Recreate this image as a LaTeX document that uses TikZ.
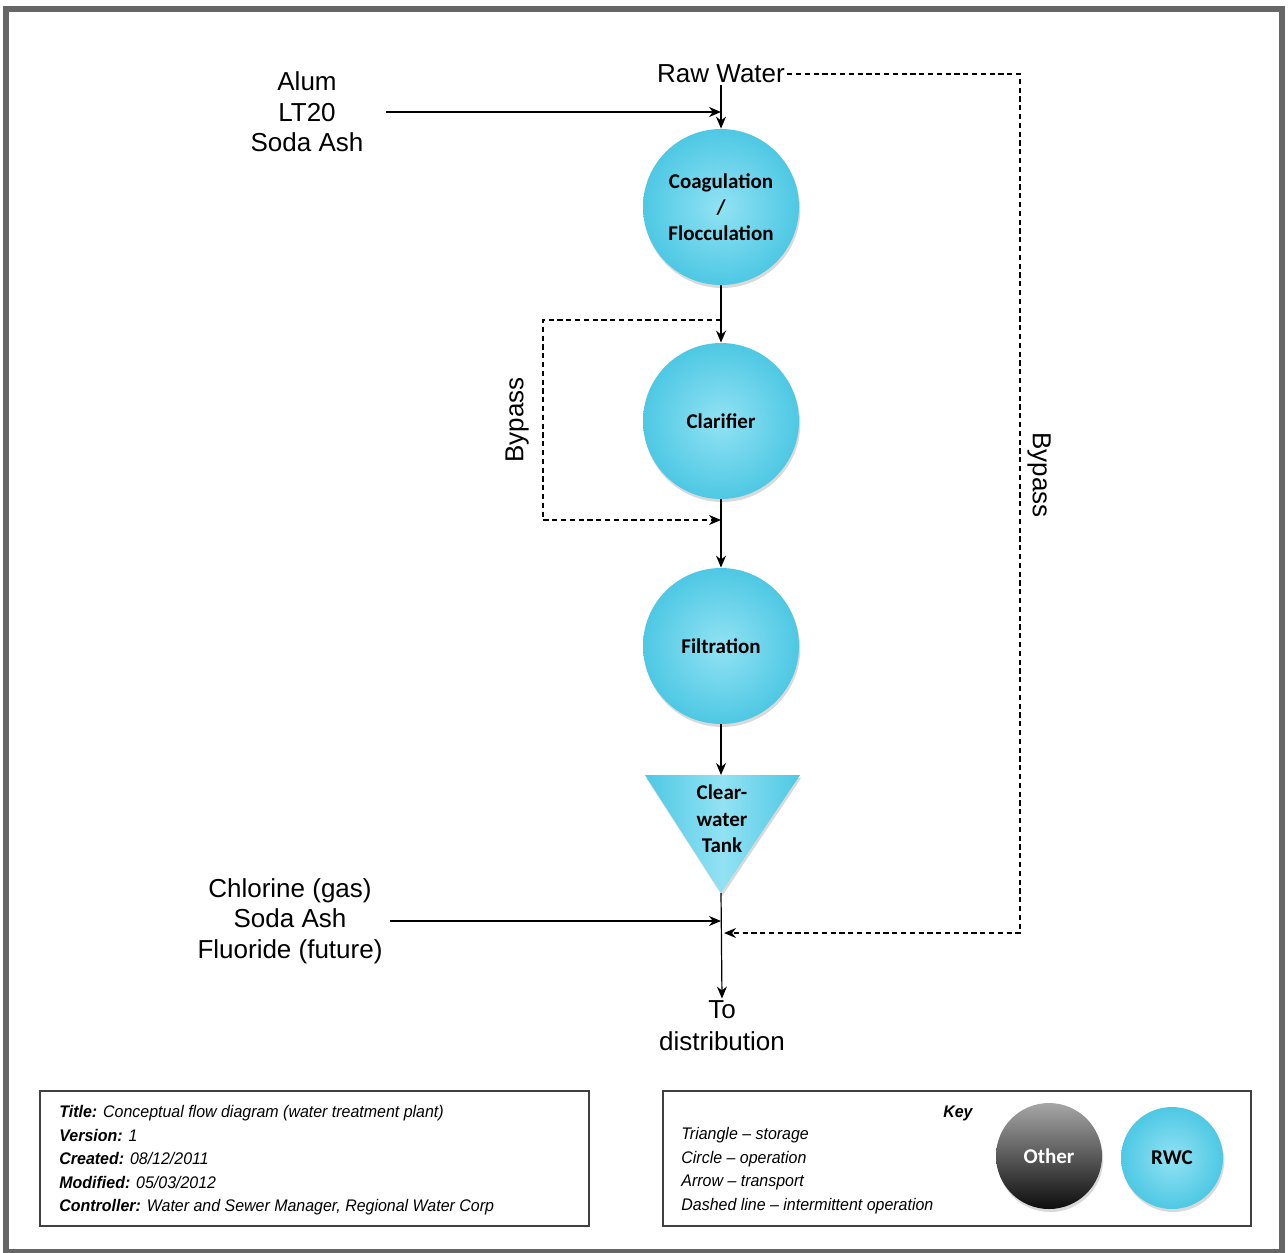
\documentclass[tikz,border=0pt]{standalone}
\usepackage{fontspec}
\setmainfont{Liberation Sans}
\newfontfamily\calib{Carlito}
\newfontfamily\narrowsans[Ligatures=TeX,FakeStretch=0.95]{Liberation Sans}
\usepackage{tikz}
\usetikzlibrary{arrows.meta,shadows,calc}
\definecolor{rwcin}{HTML}{92E2F3}
\definecolor{rwcout}{HTML}{4EC8E4}
\definecolor{framegray}{HTML}{666666}
\tikzset{
  lbl/.style={font=\fontsize{13}{15.25}\selectfont, align=center, inner sep=1pt},
  op/.style={circle, minimum size=78pt, inner sep=0pt, align=center,
    font=\calib\bfseries\fontsize{10.5}{13}\selectfont,
    shading=radial, inner color=rwcin, outer color=rwcout,
    drop shadow={shadow xshift=0.6pt, shadow yshift=-1.5pt, opacity=.3}},
  flow/.style={-{Stealth[length=6pt,width=5pt]}, line width=0.6pt},
  bypass/.style={flow, dash pattern=on 2.6pt off 1.8pt},
  box/.style={draw=black!75, line width=1pt},
  smalltxt/.style={font=\narrowsans\fontsize{8.4}{11.75}\selectfont\itshape, align=left, inner sep=0pt},
}
\begin{document}
\begin{tikzpicture}[x=0.5pt,y=-0.5pt]
\useasboundingbox (0,0) rectangle (1288,1252);
\draw[framegray, line width=3pt] (6,9) rectangle (1282,1252);

% inputs and process
\node[lbl] (raw) at (721,74) {Raw Water};
\node[lbl] (alum) at (307,112) {Alum\\LT20\\Soda Ash};
\node[op] (coag) at (721,207) {Coagulation\\/\\Flocculation};
\node[op] (clar) at (721,421) {Clarifier};
\node[op] (filt) at (721,646) {Filtration};
\path[shading=axis, left color=rwcout, right color=rwcout, middle color=rwcin,
  drop shadow={shadow xshift=0.6pt, shadow yshift=-1.5pt, opacity=.3}]
  (645,775) -- (800,775) -- (721,893) -- cycle;
\coordinate (tankin) at (721,775);
\coordinate (tankout) at (721,893);
\node[font=\calib\bfseries\fontsize{10.5}{13.25}\selectfont, align=center] (tank) at (722,819) {Clear-\\water\\Tank};
\node[lbl] (chem) at (290,921) {Chlorine (gas)\\Soda Ash\\Fluoride (future)};
\node[lbl, font=\fontsize{13}{16}\selectfont] (dist) at (722,1026) {To\\distribution};
\node[lbl, rotate=90] (bypL) at (517,420) {Bypass};
\node[lbl, rotate=-90] (bypR) at (1039,475) {Bypass};

\coordinate (byA) at (721,320);
\coordinate (byL) at (543,320);
\coordinate (byB) at (721,520);
\coordinate (bpC) at (1020,933);
\coordinate (mixB) at (721,933);

\draw[flow] (raw.south) -- (coag.north);
\draw[flow] ([xshift=10pt]alum.east) -- (alum.east -| coag.north);
\draw[flow] (coag.south) -- (clar.north);
\draw[flow] (clar.south) -- (filt.north);
\draw[flow] (filt.south) -- (tankin);
\draw[flow] (tankout) -- (dist.north);
\draw[flow] ([xshift=2.5pt]chem.east) -- (chem.east -| tankout);
\draw[bypass] (byA) -- (byL) |- (byB);
\draw[bypass, shorten >=1.5pt] (raw.east) -| (bpC) -- (mixB);

% title block
\draw[box] (40,1091) rectangle (589,1226);
\node[smalltxt, anchor=north west] (info) at (59,1105) {%
\textbf{Title:} Conceptual flow diagram (water treatment plant)\\
\textbf{Version:} 1\\
\textbf{Created:} 08/12/2011\\
\textbf{Modified:} 05/03/2012\\
\textbf{Controller:} Water and Sewer Manager, Regional Water Corp};

% key
\draw[box] (663,1091) rectangle (1251,1226);
\node[smalltxt, anchor=east] (keyhead) at (973,1113) {\textbf{Key}};
\node[smalltxt, anchor=north west] (keyitems) at (681,1127) {%
Triangle -- storage\\
Circle -- operation\\
Arrow -- transport\\
Dashed line -- intermittent operation};
\node[op, minimum size=53pt, shading=axis, top color=black!35, middle color=black!72,
  bottom color=black!95, text=white, font=\calib\bfseries\fontsize{10.5}{13}\selectfont] (oth) at (1049,1156) {Other};
\node[op, minimum size=51pt] (rwc) at (1172,1158) {RWC};
\end{tikzpicture}
\end{document}
